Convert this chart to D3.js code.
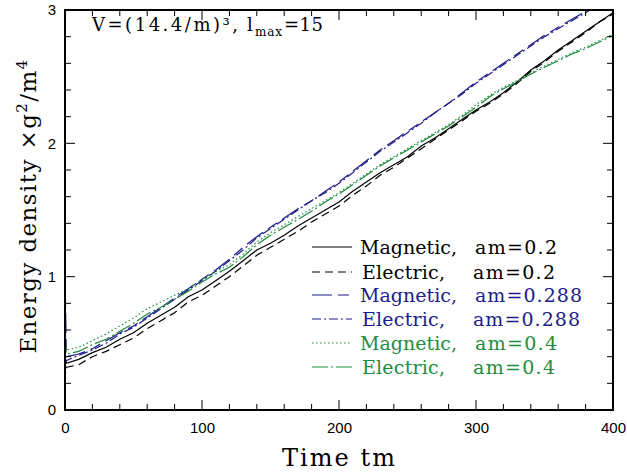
<!DOCTYPE html>
<html><head><meta charset="utf-8">
<script src="https://cdn.jsdelivr.net/npm/d3@7"></script>
<style>body{margin:0;background:#fff}</style>
</head><body>
<script>
const times = [0,1,10,20,30,40,50,60,70,80,90,100,110,120,130,140,150,160,170,180,190,200,210,220,230,240,250,260,270,280,290,300,310,320,330,340,350,360,370,380,390,400];
const magnetic02 = [0.40,0.35,0.38,0.43,0.47,0.53,0.58,0.65,0.71,0.77,0.85,0.90,0.97,1.04,1.12,1.20,1.25,1.31,1.38,1.44,1.50,1.56,1.64,1.71,1.78,1.84,1.90,1.98,2.04,2.11,2.18,2.25,2.31,2.38,2.46,2.55,2.62,2.70,2.77,2.84,2.91,2.98];
const electric02 = [0.42,0.32,0.34,0.40,0.44,0.49,0.54,0.61,0.67,0.73,0.81,0.86,0.93,1.00,1.08,1.16,1.22,1.28,1.34,1.41,1.47,1.53,1.61,1.68,1.76,1.82,1.89,1.96,2.03,2.10,2.17,2.24,2.30,2.37,2.45,2.54,2.61,2.69,2.76,2.83,2.91,2.97];
const magnetic0288 = [1.05,0.40,0.42,0.46,0.52,0.58,0.63,0.70,0.77,0.84,0.91,0.98,1.05,1.13,1.22,1.30,1.37,1.44,1.51,1.57,1.64,1.71,1.79,1.87,1.95,2.02,2.09,2.16,2.23,2.30,2.38,2.46,2.53,2.60,2.67,2.74,2.81,2.87,2.93,2.99,3.05,3.12];
const electric0288 = [0.22,0.37,0.41,0.45,0.50,0.57,0.62,0.69,0.76,0.83,0.90,0.97,1.04,1.12,1.20,1.29,1.36,1.43,1.50,1.57,1.63,1.70,1.78,1.86,1.94,2.01,2.08,2.15,2.23,2.30,2.37,2.45,2.52,2.59,2.66,2.73,2.80,2.86,2.92,2.98,3.04,3.11];
const magnetic04 = [0.62,0.45,0.47,0.52,0.57,0.63,0.69,0.76,0.81,0.86,0.91,0.98,1.04,1.09,1.17,1.26,1.33,1.39,1.45,1.51,1.57,1.63,1.70,1.77,1.84,1.90,1.96,2.02,2.08,2.14,2.21,2.29,2.36,2.42,2.47,2.53,2.58,2.63,2.68,2.72,2.77,2.82];
const electric04 = [0.55,0.42,0.44,0.49,0.53,0.59,0.65,0.72,0.77,0.83,0.89,0.96,1.02,1.07,1.15,1.24,1.31,1.37,1.43,1.49,1.56,1.62,1.69,1.76,1.83,1.89,1.95,2.01,2.07,2.13,2.20,2.27,2.35,2.41,2.46,2.52,2.57,2.62,2.67,2.71,2.76,2.81];
const seriesNames = ["Magnetic,","Electric,","Magnetic,","Electric,","Magnetic,","Electric,"];
const seriesAm = ["am=0.2","am=0.2","am=0.288","am=0.288","am=0.4","am=0.4"];
const xTicks = [0,100,200,300,400];
const yTicks = [0,1,2,3];

const W=627,H=474;
const m={l:65,r:14,t:10,b:64};
const svg=d3.select("body").append("svg").attr("width",W).attr("height",H);
const x=d3.scaleLinear().domain([0,400]).range([m.l,W-m.r]);
const y=d3.scaleLinear().domain([0,3]).range([H-m.b,m.t]);

const seriesData=[magnetic02,electric02,magnetic0288,electric0288,magnetic04,electric04];
const colors=["#000","#000","#1c1c8a","#1c1c8a","#1d8c3c","#1d8c3c"];
const dashes=[null,"8,5","20,6,11,6","9,3,2,3","1.5,2.5","16,3,2,3"];

svg.append("clipPath").attr("id","clip").append("rect")
  .attr("x",m.l).attr("y",m.t).attr("width",W-m.l-m.r).attr("height",H-m.t-m.b);

const line=d3.line().x(d=>x(d[0])).y(d=>y(d[1]));
const g=svg.append("g").attr("clip-path","url(#clip)");
seriesData.forEach((vals,i)=>{
  g.append("path").datum(times.map((t,j)=>[t,vals[j]]))
   .attr("d",line).attr("fill","none").attr("stroke",colors[i])
   .attr("stroke-width",1.2).attr("stroke-dasharray",dashes[i]);
});

const minorX=d3.range(0,401,20), minorY=d3.range(0,3.01,0.2);
const ax=svg.append("g").attr("stroke","#000").attr("stroke-width",1);
minorX.forEach(v=>{
  const L=(v%100===0)?10:6;
  if(v===0||v===400) return;
  ax.append("line").attr("x1",x(v)).attr("x2",x(v)).attr("y1",y(0)).attr("y2",y(0)-L);
  ax.append("line").attr("x1",x(v)).attr("x2",x(v)).attr("y1",y(3)).attr("y2",y(3)+L);
});
minorY.forEach(v=>{
  const L=(Math.abs(v-Math.round(v))<1e-6)?10:6;
  if(v<0.01||v>2.99) return;
  ax.append("line").attr("y1",y(v)).attr("y2",y(v)).attr("x1",x(0)).attr("x2",x(0)+L);
  ax.append("line").attr("y1",y(v)).attr("y2",y(v)).attr("x1",x(400)).attr("x2",x(400)-L);
});
svg.append("rect").attr("x",m.l).attr("y",m.t).attr("width",W-m.l-m.r).attr("height",H-m.t-m.b)
  .attr("fill","none").attr("stroke","#000").attr("stroke-width",2);

const xAxis=d3.axisBottom(x).tickValues(xTicks).tickFormat(d3.format("d")).tickSize(0).tickPadding(12);
svg.append("g").attr("transform",`translate(0,${y(0)})`).call(xAxis)
  .call(s=>s.select(".domain").remove())
  .selectAll("text").attr("font-family","Liberation Sans, Arial, sans-serif").attr("font-size",15).attr("fill","#000");
const yAxis=d3.axisLeft(y).tickValues(yTicks).tickFormat(d3.format("d")).tickSize(0).tickPadding(9);
svg.append("g").attr("transform",`translate(${x(0)},0)`).call(yAxis)
  .call(s=>s.select(".domain").remove())
  .selectAll("text").attr("font-family","Liberation Sans, Arial, sans-serif").attr("font-size",15).attr("fill","#000");

const serif="DejaVu Serif, serif";
svg.append("text").attr("x",282).attr("y",466)
  .attr("font-family",serif).attr("font-size",24).attr("textLength",113).attr("lengthAdjust","spacing").text("Time tm");
const yt=svg.append("text").attr("transform",`translate(36,206) rotate(-90)`)
  .attr("text-anchor","middle").attr("font-family",serif).attr("font-size",23).attr("letter-spacing",1.4);
yt.append("tspan").text("Energy density \u00d7g");
yt.append("tspan").attr("font-size",15).attr("dy",-9).text("2");
yt.append("tspan").attr("dy",9).text("/m");
yt.append("tspan").attr("font-size",15).attr("dy",-9).text("4");

function txt(str,x0,y0,size,len,col){
  return svg.append("text").attr("x",x0).attr("y",y0).attr("font-family",serif).attr("font-size",size)
    .attr("fill",col||"#000").attr("textLength",len).attr("lengthAdjust","spacing").text(str);
}
txt("V=(14.4/m)\u00b3,",92,31,18,146);
txt("l",247,31,18,6);
txt("max",255,36,12,27);
txt("=15",284,31,18,39);

const legY=[247,272,295,319,343,367];
const amLen=[82,82,107,107,82,82];
const nameLen=[97,83,97,83,97,83];
seriesData.forEach((vals,i)=>{
  svg.append("line").attr("x1",312).attr("x2",352).attr("y1",legY[i]).attr("y2",legY[i])
    .attr("stroke",colors[i]).attr("stroke-width",1.2).attr("stroke-dasharray",dashes[i]);
  txt(seriesNames[i], i%2===0?360:362, legY[i]+7, 19, nameLen[i], colors[i]);
  txt(seriesAm[i], i%2===0?475:473, legY[i]+7, 19, amLen[i], colors[i]);
});
</script>
</body></html>
